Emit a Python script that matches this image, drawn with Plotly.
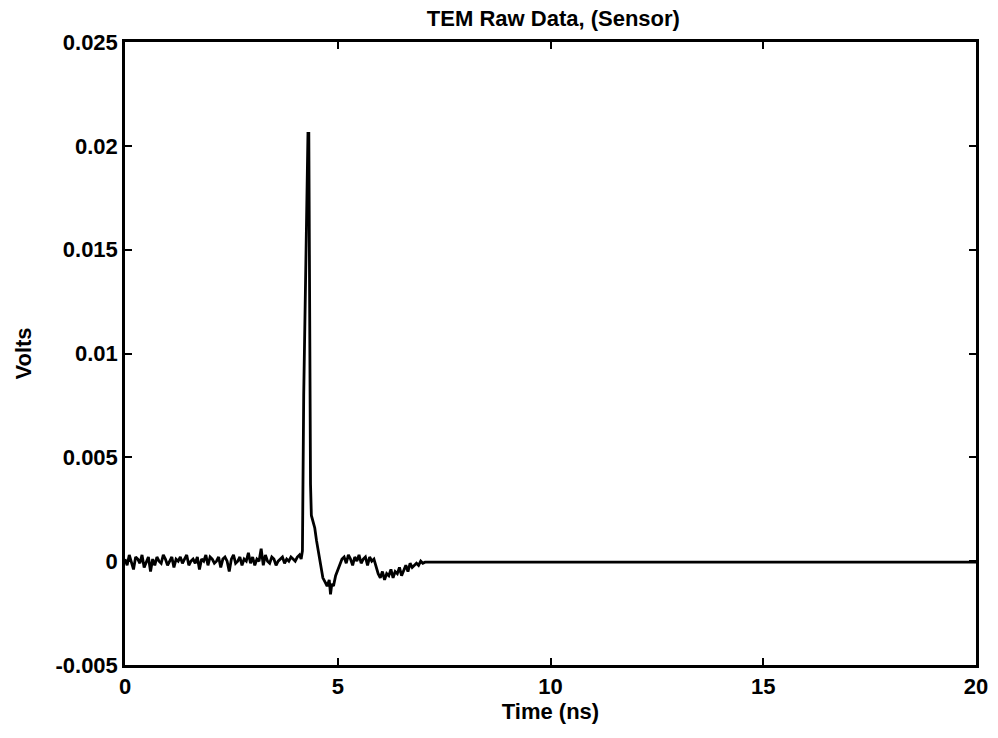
import plotly.graph_objects as go

# ---- data (voltages in units of 1e-4 V) ----
SCALE = 1e-4
DT = 0.05  # ns sampling step for the noisy segments

pre_v = [1, -2, 3, 0, -4, 2, 1, -1, 3, -3, 0, 2, -5, 1, -2, 2, 0, -1, 3, 1,
         -2, 0, 2, -3, 1, 0, 2, -1, 1, 3, -2, 0, 1, -1, 2, -4, 1, 0, 3, -2,
         2, 1, -1, 0, 2, -3, 1, 2, 0, -5, 1, 3, -1, 0, 2, -2, 1, 0, 4, -1,
         2, -2, 1, 0, 6, -2, 3, 0, -1, 2, 1, -2, 0, 1, 2, -1, 1, 0, 2, 1,
         0, 2, 3]

spike_t = [4.14, 4.17, 4.20, 4.25, 4.30, 4.32, 4.34, 4.36, 4.38, 4.42, 4.46,
           4.50, 4.55, 4.60, 4.65, 4.70, 4.75, 4.80, 4.83, 4.86, 4.90, 4.95,
           5.00, 5.05, 5.10]
spike_v = [1, 5, 80, 150, 206, 206, 100, 37, 22, 19, 16,
           10, 4, -2, -8, -10, -12, -9, -16, -11, -12, -7,
           -4, -1, 1]

post_start = 5.15
post_v = [2, -1, 3, 1, -2, 2, 0, 3, -1, 1, 2, -2, 2, 0, 1,
          -3, -6, -8, -5, -9, -6, -7, -4, -8, -5, -6, -3, -7,
          -4, -2, -5, -1, -3, -2, -1, -2, 0, -1]

tail_t = [7.05, 20.0]
tail_v = [-0.5, -0.5]

x_ticks = [0, 5, 10, 15, 20]
y_ticks = [-0.005, 0, 0.005, 0.01, 0.015, 0.02, 0.025]
y_tick_text = ["-0.005", "0", "0.005", "0.01", "0.015", "0.02", "0.025"]

# ---- assemble ----
pre_t = [i * DT for i in range(len(pre_v))]
post_t = [post_start + i * DT for i in range(len(post_v))]
t = pre_t + spike_t + post_t + tail_t
v = [val * SCALE for val in (pre_v + spike_v + post_v + tail_v)]

font = "Liberation Sans, Arial, Helvetica, sans-serif"

fig = go.Figure(go.Scatter(x=t, y=v, mode="lines",
                           line=dict(color="black", width=2.8)))

axis_common = dict(showgrid=False, zeroline=False, showline=True,
                   linecolor="black", linewidth=2.5, mirror="ticks",
                   ticks="inside", ticklen=7, tickwidth=1.5, tickcolor="black",
                   tickfont=dict(family=font, size=22, color="black", weight="bold"))

fig.update_xaxes(range=[0, 20], tickvals=x_ticks,
                 title=dict(text="Time (ns)",
                            font=dict(family=font, size=22, color="black", weight="bold"),
                            standoff=2),
                 **axis_common)
fig.update_yaxes(range=[-0.005, 0.025], tickvals=y_ticks, ticktext=y_tick_text,
                 title=dict(text="Volts",
                            font=dict(family=font, size=22, color="black", weight="bold"),
                            standoff=18),
                 **axis_common)

fig.update_layout(
    width=998, height=738,
    margin=dict(l=125, r=10, t=42, b=73),
    paper_bgcolor="white", plot_bgcolor="white",
    showlegend=False,
    title=dict(text="TEM Raw Data, (Sensor)", x=0.5545, xanchor="center",
               y=0.985, yanchor="top",
               font=dict(family=font, size=22, color="black", weight="bold")),
)

fig.write_html("out.html")
